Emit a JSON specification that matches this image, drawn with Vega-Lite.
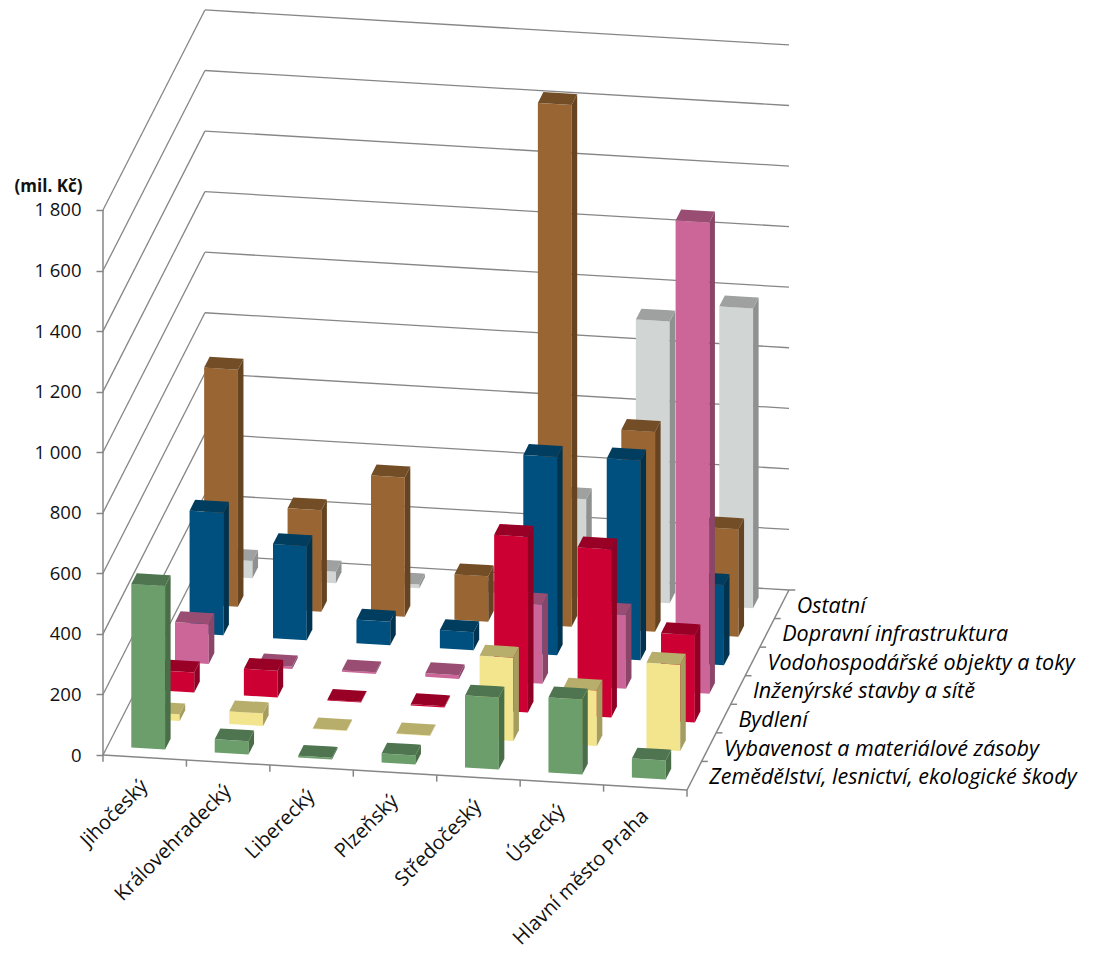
{
"$schema":"https://vega.github.io/schema/vega-lite/v6.json",
"width":996,"height":957,"autosize":"none",
"padding":{"left":103,"top":0,"right":0,"bottom":0},
"background":"white",
"config":{"view":{"stroke":null},"font":"Open Sans"},
"params":[
{"name":"regionOrder","value":["Jihočeský","Královehradecký","Liberecký","Plzeňský","Středočeský","Ústecký","Hlavní město Praha"]},
{"name":"seriesOrder","value":["Zemědělství, lesnictví, ekologické škody","Vybavenost a materiálové zásoby","Bydlení","Inženýrské stavby a sítě","Vodohospodářské objekty a toky","Dopravní infrastruktura","Ostatní"]}
],
"datasets":{
"bars":[
{"region":"Jihočeský","series":"Ostatní","value":57},
{"region":"Královehradecký","series":"Ostatní","value":38},
{"region":"Liberecký","series":"Ostatní","value":12},
{"region":"Plzeňský","series":"Ostatní","value":1},
{"region":"Středočeský","series":"Ostatní","value":327},
{"region":"Ústecký","series":"Ostatní","value":930},
{"region":"Hlavní město Praha","series":"Ostatní","value":990},
{"region":"Jihočeský","series":"Dopravní infrastruktura","value":783},
{"region":"Královehradecký","series":"Dopravní infrastruktura","value":335},
{"region":"Liberecký","series":"Dopravní infrastruktura","value":460},
{"region":"Plzeňský","series":"Dopravní infrastruktura","value":150},
{"region":"Středočeský","series":"Dopravní infrastruktura","value":1723},
{"region":"Ústecký","series":"Dopravní infrastruktura","value":660},
{"region":"Hlavní město Praha","series":"Dopravní infrastruktura","value":355},
{"region":"Jihočeský","series":"Vodohospodářské objekty a toky","value":405},
{"region":"Královehradecký","series":"Vodohospodářské objekty a toky","value":311},
{"region":"Liberecký","series":"Vodohospodářské objekty a toky","value":78},
{"region":"Plzeňský","series":"Vodohospodářské objekty a toky","value":60},
{"region":"Středočeský","series":"Vodohospodářské objekty a toky","value":655},
{"region":"Ústecký","series":"Vodohospodářské objekty a toky","value":660},
{"region":"Hlavní město Praha","series":"Vodohospodářské objekty a toky","value":265},
{"region":"Jihočeský","series":"Inženýrské stavby a sítě","value":131},
{"region":"Královehradecký","series":"Inženýrské stavby a sítě","value":8},
{"region":"Liberecký","series":"Inženýrské stavby a sítě","value":5},
{"region":"Plzeňský","series":"Inženýrské stavby a sítě","value":12},
{"region":"Středočeský","series":"Inženýrské stavby a sítě","value":262},
{"region":"Ústecký","series":"Inženýrské stavby a sítě","value":245},
{"region":"Hlavní město Praha","series":"Inženýrské stavby a sítě","value":1557},
{"region":"Jihočeský","series":"Bydlení","value":66},
{"region":"Královehradecký","series":"Bydlení","value":88},
{"region":"Liberecký","series":"Bydlení","value":2},
{"region":"Plzeňský","series":"Bydlení","value":4},
{"region":"Středočeský","series":"Bydlení","value":580},
{"region":"Ústecký","series":"Bydlení","value":555},
{"region":"Hlavní město Praha","series":"Bydlení","value":288},
{"region":"Jihočeský","series":"Vybavenost a materiálové zásoby","value":22},
{"region":"Královehradecký","series":"Vybavenost a materiálové zásoby","value":42},
{"region":"Liberecký","series":"Vybavenost a materiálové zásoby","value":2},
{"region":"Plzeňský","series":"Vybavenost a materiálové zásoby","value":2},
{"region":"Středočeský","series":"Vybavenost a materiálové zásoby","value":275},
{"region":"Ústecký","series":"Vybavenost a materiálové zásoby","value":183},
{"region":"Hlavní město Praha","series":"Vybavenost a materiálové zásoby","value":285},
{"region":"Jihočeský","series":"Zemědělství, lesnictví, ekologické škody","value":540},
{"region":"Královehradecký","series":"Zemědělství, lesnictví, ekologické škody","value":44},
{"region":"Liberecký","series":"Zemědělství, lesnictví, ekologické škody","value":6},
{"region":"Plzeňský","series":"Zemědělství, lesnictví, ekologické škody","value":30},
{"region":"Středočeský","series":"Zemědělství, lesnictví, ekologické škody","value":238},
{"region":"Ústecký","series":"Zemědělství, lesnictví, ekologické škody","value":248},
{"region":"Hlavní město Praha","series":"Zemědělství, lesnictví, ekologické škody","value":63}
],
"levels":[{"level":0},{"level":200},{"level":400},{"level":600},{"level":800},{"level":1000},{"level":1200},{"level":1400},{"level":1600},{"level":1800}],
"regions":[{"region":"Jihočeský"},{"region":"Královehradecký"},{"region":"Liberecký"},{"region":"Plzeňský"},{"region":"Středočeský"},{"region":"Ústecký"},{"region":"Hlavní město Praha"}],
"series":[{"series":"Zemědělství, lesnictví, ekologické škody"},{"series":"Vybavenost a materiálové zásoby"},{"series":"Bydlení"},{"series":"Inženýrské stavby a sítě"},{"series":"Vodohospodářské objekty a toky"},{"series":"Dopravní infrastruktura"},{"series":"Ostatní"}],
"steps":[{"k":0},{"k":1},{"k":2},{"k":3},{"k":4},{"k":5},{"k":6},{"k":7}]
},
"resolve":{"axis":{"y":"independent"}},
"layer":[
{"data":{"name":"levels"},
 "transform":[{"calculate":"datum.level+660.5","as":"backLeft"},{"calculate":"datum.level+660.5-115.57","as":"backRight"}],
 "mark":{"type":"rule","color":"#868686","strokeWidth":1.3},
 "encoding":{
  "x":{"datum":0,"type":"quantitative","scale":{"domain":[0,11.938],"nice":false,"zero":false},"axis":null},
  "x2":{"datum":1.2218},
  "y":{"field":"level","type":"quantitative","scale":{"domain":[-667.1,2493.4],"nice":false,"zero":false},
   "axis":{"values":[0,200,400,600,800,1000,1200,1400,1600,1800],"domain":false,"grid":false,"tickColor":"#868686","tickSize":7,"tickWidth":1.5,
    "labelFont":"Open Sans","labelFontSize":18.5,"labelColor":"#111111","labelPadding":15,
    "labelExpr":"replace(format(datum.value,','),',',' ')",
    "title":"(mil. Kč)","titleFont":"Open Sans","titleFontSize":17,"titleFontWeight":"bold","titleColor":"#111111","titleAngle":0,"titleX":-55,"titleY":186,"titleAlign":"center","titleBaseline":"middle"}},
  "y2":{"field":"backLeft"}}},
{"data":{"name":"levels"},
 "transform":[{"calculate":"datum.level+660.5","as":"backLeft"},{"calculate":"datum.level+660.5-115.57","as":"backRight"}],
 "mark":{"type":"rule","color":"#868686","strokeWidth":1.3},
 "encoding":{
  "x":{"datum":1.2218,"type":"quantitative","axis":null},
  "x2":{"datum":8.2218},
  "y":{"field":"backLeft","type":"quantitative","axis":null},
  "y2":{"field":"backRight"}}},
{"data":{"values":[{"a":0}]},
 "mark":{"type":"rule","color":"#868686","strokeWidth":1.5},
 "encoding":{"x":{"datum":0,"type":"quantitative","axis":null},"y":{"datum":0,"type":"quantitative","axis":null},"y2":{"datum":1800}}},
{"data":{"values":[{"a":0}]},
 "mark":{"type":"rule","color":"#868686","strokeWidth":1.5},
 "encoding":{"x":{"datum":0,"type":"quantitative","axis":null},"x2":{"datum":7},"y":{"datum":0,"type":"quantitative","axis":null},"y2":{"datum":-115.57}}},
{"data":{"values":[{"a":0}]},
 "mark":{"type":"rule","color":"#868686","strokeWidth":1.5},
 "encoding":{"x":{"datum":7,"type":"quantitative","axis":null},"x2":{"datum":8.2218},"y":{"datum":-115.57,"type":"quantitative","axis":null},"y2":{"datum":544.93}}},
{"data":{"name":"steps"},
 "transform":[{"calculate":"-datum.k*16.51","as":"y0"},{"calculate":"-datum.k*16.51-22","as":"y1"}],
 "mark":{"type":"rule","color":"#868686","strokeWidth":1.5},
 "encoding":{"x":{"field":"k","type":"quantitative","axis":null},"y":{"field":"y0","type":"quantitative","axis":null},"y2":{"field":"y1"}}},
{"data":{"name":"steps"},
 "transform":[{"filter":"datum.k>0"},{"calculate":"7+datum.k*0.17463","as":"x0"},{"calculate":"7+datum.k*0.17463+0.075","as":"x1"},{"calculate":"-115.57+datum.k*94.36","as":"y0"}],
 "mark":{"type":"rule","color":"#868686","strokeWidth":1.5},
 "encoding":{"x":{"field":"x0","type":"quantitative","axis":null},"x2":{"field":"x1"},"y":{"field":"y0","type":"quantitative","axis":null}}},
{"data":{"name":"bars"},
 "transform":[
  {"calculate":"indexof(regionOrder,datum.region)","as":"i"},
  {"calculate":"indexof(seriesOrder,datum.series)","as":"s"},
  {"calculate":"[0,1,2,3,4,5,6,7]","as":"v"},
  {"flatten":["v"]},
  {"calculate":"datum.v<2?'front':(datum.v<4?'side':'top')","as":"face"},
  {"calculate":"[0.285,0.69,0.69,0.69,0.285,0.285,0.69,0.69][datum.v]","as":"a"},
  {"calculate":"[0.31,0.31,0.31,0.69,0.31,0.69,0.31,0.69][datum.v]","as":"b"},
  {"calculate":"datum.i+datum.a+(datum.s+datum.b)*0.17463","as":"px"},
  {"calculate":"(datum.s+datum.b)*94.36-(datum.i+datum.a)*16.51","as":"floor"},
  {"calculate":"datum.floor+datum.value+(datum.v==6?37:0)","as":"upper"},
  {"calculate":"datum.v<4?datum.floor:(datum.floor+datum.value-(datum.v==5?37:0))","as":"lower"},
  {"calculate":"datum.series+'|'+datum.face","as":"shade"},
  {"calculate":"datum.s*100+datum.i*10+indexof(['front','side','top'],datum.face)","as":"polygon"}
 ],
 "mark":{"type":"area","orient":"vertical","interpolate":"linear"},
 "encoding":{
  "x":{"field":"px","type":"quantitative","axis":null},
  "y":{"field":"upper","type":"quantitative","stack":null,"axis":null},
  "y2":{"field":"lower"},
  "detail":{"field":"polygon","type":"nominal"},
  "color":{"field":"shade","type":"nominal","legend":null,"sort":null,"scale":{
   "domain":["Zemědělství, lesnictví, ekologické škody|front","Zemědělství, lesnictví, ekologické škody|side","Zemědělství, lesnictví, ekologické škody|top","Vybavenost a materiálové zásoby|front","Vybavenost a materiálové zásoby|side","Vybavenost a materiálové zásoby|top","Bydlení|front","Bydlení|side","Bydlení|top","Inženýrské stavby a sítě|front","Inženýrské stavby a sítě|side","Inženýrské stavby a sítě|top","Vodohospodářské objekty a toky|front","Vodohospodářské objekty a toky|side","Vodohospodářské objekty a toky|top","Dopravní infrastruktura|front","Dopravní infrastruktura|side","Dopravní infrastruktura|top","Ostatní|front","Ostatní|side","Ostatní|top"],
   "range":["#6B9E6A","#4A6E47","#4F7550","#F3E58D","#A59C5F","#B8AE6B","#CC0033","#8F0024","#990026","#CC6699","#8A4568","#994D73","#00507F","#00334F","#003D5F","#996633","#664422","#734D26","#D1D5D4","#8F9190","#9FA1A0"]}}}},
{"data":{"name":"regions"},
 "transform":[
  {"calculate":"indexof(regionOrder,datum.region)","as":"i"},
  {"calculate":"datum.i+0.5","as":"lx"},
  {"calculate":"-(datum.i+0.5)*16.51-85","as":"ly"}],
 "mark":{"type":"text","align":"right","baseline":"middle","angle":315,"font":"Open Sans","fontSize":20,"color":"#111111"},
 "encoding":{"x":{"field":"lx","type":"quantitative","axis":null},"y":{"field":"ly","type":"quantitative","axis":null},"text":{"field":"region"}}},
{"data":{"name":"series"},
 "transform":[
  {"calculate":"indexof(seriesOrder,datum.series)","as":"s"},
  {"calculate":"7+(datum.s+0.5)*0.17463+0.18","as":"lx"},
  {"calculate":"-115.57+(datum.s+0.5)*94.36-8","as":"ly"}],
 "mark":{"type":"text","align":"left","baseline":"middle","font":"Open Sans","fontStyle":"italic","fontSize":21.5,"color":"#000000"},
 "encoding":{"x":{"field":"lx","type":"quantitative","axis":null},"y":{"field":"ly","type":"quantitative","axis":null},"text":{"field":"series"}}}
]
}
